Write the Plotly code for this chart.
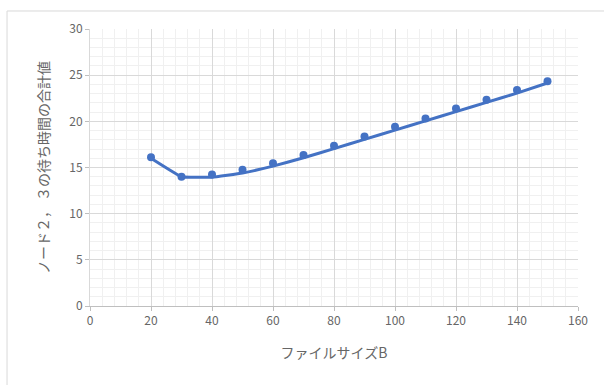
import plotly.graph_objects as go

# File size (B) and total waiting time at nodes 2 and 3
file_size = [20, 30, 40, 50, 60, 70, 80, 90, 100, 110, 120, 130, 140, 150]
wait_points = [16.1, 14.0, 14.25, 14.75, 15.45, 16.35, 17.35, 18.35, 19.4, 20.3, 21.4, 22.35, 23.4, 24.35]
wait_curve = [16.0, 14.0, 13.95, 14.4, 15.15, 16.05, 17.05, 18.05, 19.05, 20.05, 21.05, 22.05, 23.05, 24.15]

x_ticks = [0, 20, 40, 60, 80, 100, 120, 140, 160]
y_ticks = [0, 5, 10, 15, 20, 25, 30]

BLUE = "#4472c4"
TEXT = "#666666"
FONT = "Noto Sans CJK JP, Liberation Sans, sans-serif"

fig = go.Figure()
fig.add_trace(go.Scatter(
    x=file_size, y=wait_curve, mode="lines",
    line=dict(color=BLUE, width=3, shape="spline", smoothing=0.25),
    hoverinfo="skip", showlegend=False,
))
fig.add_trace(go.Scatter(
    x=file_size, y=wait_points, mode="markers",
    marker=dict(color=BLUE, size=8),
    showlegend=False,
))

fig.update_layout(
    width=604, height=385,
    margin=dict(l=90, r=26, t=29, b=79),
    paper_bgcolor="white", plot_bgcolor="white",
    font=dict(family=FONT, color=TEXT, size=12),
    shapes=[dict(
        type="rect", xref="paper", yref="paper",
        x0=-0.170, x1=1.2, y0=-0.4, y1=1.065,
        line=dict(color="#d9d9d9", width=1), layer="below",
    )],
)
fig.update_xaxes(
    range=[0, 160], tickvals=x_ticks, ticktext=[str(v) for v in x_ticks],
    showgrid=True, gridcolor="#d9d9d9", gridwidth=1,
    minor=dict(dtick=4, showgrid=True, gridcolor="#f0f0f0", gridwidth=1),
    showline=True, linecolor="#bfbfbf", linewidth=1,
    ticks="outside", ticklen=4, tickcolor="#bfbfbf",
    zeroline=False, tickfont=dict(size=12, color=TEXT),
    title=dict(text="ファイルサイズB", font=dict(size=14, color=TEXT), standoff=20),
)
fig.update_yaxes(
    range=[0, 30], tickvals=y_ticks, ticktext=[str(v) for v in y_ticks],
    showgrid=True, gridcolor="#d9d9d9", gridwidth=1,
    minor=dict(dtick=1, showgrid=True, gridcolor="#f0f0f0", gridwidth=1),
    showline=True, linecolor="#d9d9d9", linewidth=1,
    ticks="outside", ticklen=4, tickcolor="#bfbfbf",
    zeroline=False, tickfont=dict(size=12, color=TEXT),
    title=dict(text="ノード２， ３の待ち時間の合計値", font=dict(size=14, color=TEXT), standoff=16),
)

fig.write_html("out.html")
